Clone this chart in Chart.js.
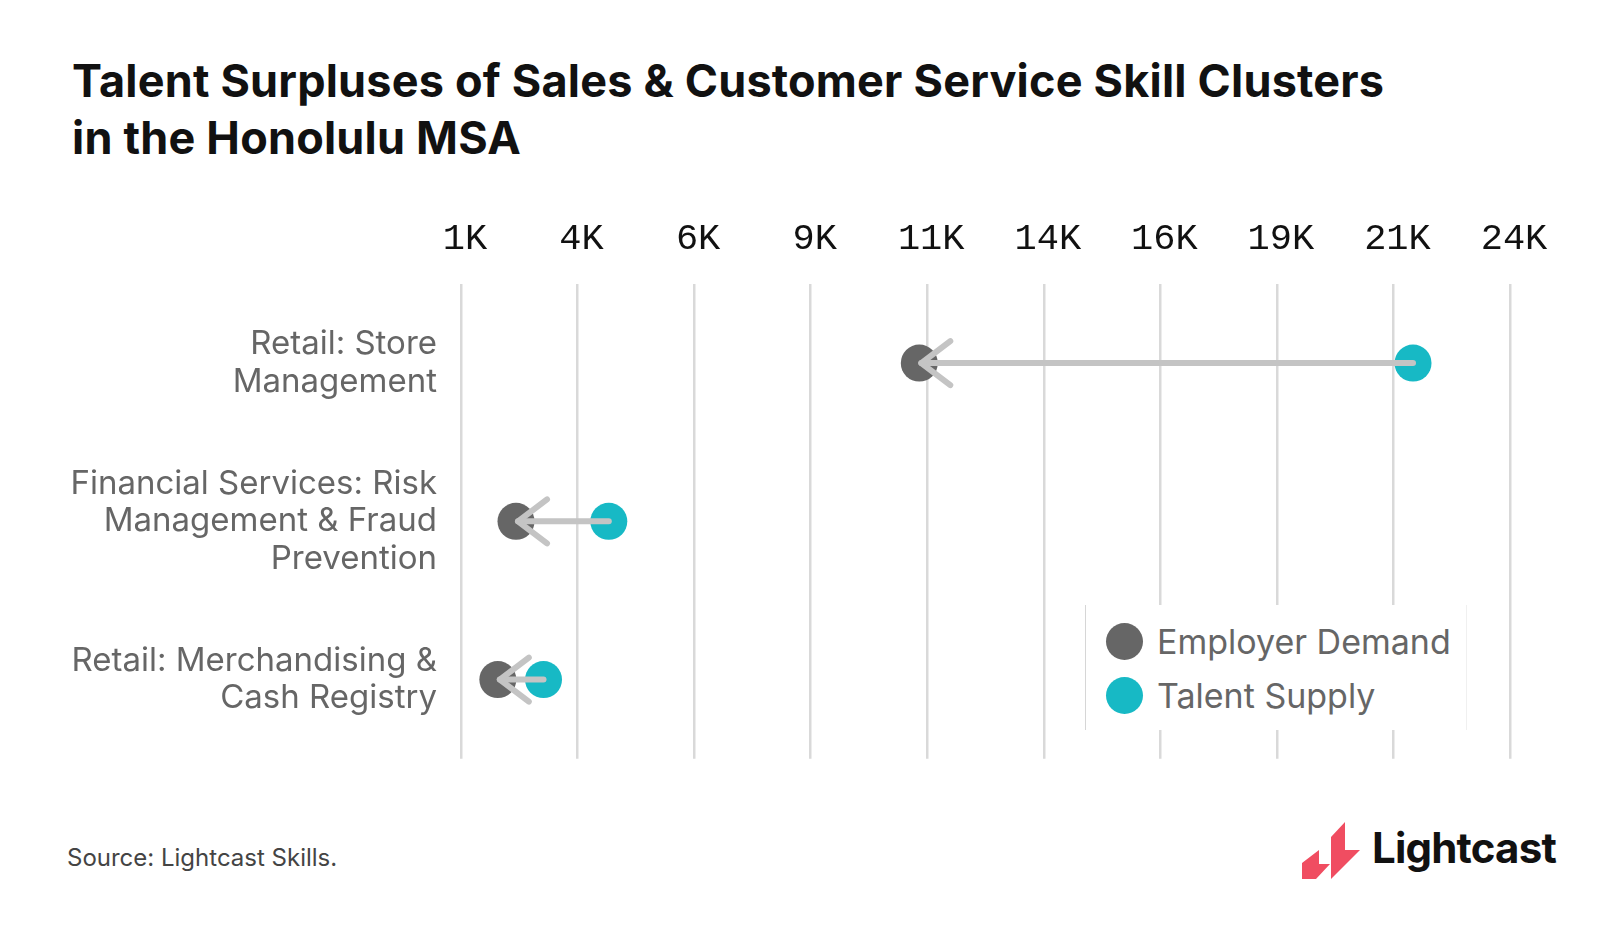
<!DOCTYPE html>
<html>
<head>
<meta charset="utf-8">
<script src="https://cdn.jsdelivr.net/npm/chart.js@4.4.0/dist/chart.umd.min.js"></script>
<style>
  html, body { margin: 0; padding: 0; background: #fff; }
  body { width: 1600px; height: 926px; position: relative; overflow: hidden; font-family: Inter, 'Noto Sans', sans-serif; }
  #title { position: absolute; left: 72px; top: 52px; margin: 0; font-size: 45px; line-height: 57px; font-weight: 700; color: #111; letter-spacing: 0.2px; }
  #chartBox { position: absolute; left: 0; top: 180px; width: 1600px; height: 640px; }
  #legend { position: absolute; left: 1085px; top: 605px; width: 382px; height: 125px; background: #fff;
            border-left: 1px solid #d6d6d6; border-right: 1px solid #f0f0f0; box-sizing: border-box; }
  .item { position: absolute; left: 20px; display: flex; align-items: center; font-size: 34px; color: #666; }
  .dot { width: 37px; height: 37px; border-radius: 50%; margin-right: 14px; }
  #source { position: absolute; left: 67px; top: 843px; font-size: 24px; color: #444; }
  #logo { position: absolute; left: 1302px; top: 822px; }
  #logoText { position: absolute; left: 1372px; top: 822px; font-size: 42px; font-weight: 700; color: #111; letter-spacing: -0.8px; }
</style>
</head>
<body>
<h1 id="title">Talent Surpluses of Sales &amp; Customer Service Skill Clusters<br>in the Honolulu MSA</h1>
<div id="chartBox"><canvas id="chart"></canvas></div>
<div id="legend">
  <div class="item" style="top:16px"><span class="dot" style="background:#666666"></span>Employer Demand</div>
  <div class="item" style="top:70px"><span class="dot" style="background:#17b9c5"></span>Talent Supply</div>
</div>
<div id="source">Source: Lightcast Skills.</div>
<svg id="logo" width="58" height="57" viewBox="0 0 58 57">
  <polygon points="0,57 0,41 17,28 17,42 28,42 14,57" fill="#f04d61"/>
  <polygon points="29,15 43,0 43,28 58,28 29,57 29,42" fill="#f04d61"/>
</svg>
<div id="logoText">Lightcast</div>

<script>
// ─── 데이터 ──────────────────────────────────────────────────────────────────
const categories = [
  ['Retail: Store', 'Management'],
  ['Financial Services: Risk', 'Management & Fraud', 'Prevention'],
  ['Retail: Merchandising &', 'Cash Registry'],
];
const employerDemand = [10830, 2180, 1790];
const talentSupply = [21420, 4170, 2770];
const tickValues = [1000, 3500, 6000, 8500, 11000, 13500, 16000, 18500, 21000, 23500];

const DEMAND_COLOR = '#666666';
const SUPPLY_COLOR = '#17b9c5';
const ARROW_COLOR = '#c4c4c4';

// ─── 화살표 플러그인 ─────────────────────────────────────────────────────────
const arrowPlugin = {
  id: 'arrows',
  afterDatasetsDraw(c) {
    const ctx = c.ctx;
    const xs = c.scales.x;
    const ys = c.scales.y;
    ctx.save();
    ctx.strokeStyle = ARROW_COLOR;
    ctx.lineWidth = 6;
    ctx.lineCap = 'round';
    ctx.lineJoin = 'round';
    categories.forEach((_, i) => {
      const y = ys.getPixelForValue(i);
      const from = xs.getPixelForValue(talentSupply[i]);
      const tip = xs.getPixelForValue(employerDemand[i]) + 2;
      ctx.beginPath();
      ctx.moveTo(from, y);
      ctx.lineTo(tip, y);
      ctx.stroke();
      ctx.beginPath();
      ctx.moveTo(tip + 29, y - 22);
      ctx.lineTo(tip, y);
      ctx.lineTo(tip + 29, y + 22);
      ctx.stroke();
    });
    ctx.restore();
  },
};

// ─── 차트 ────────────────────────────────────────────────────────────────────
new Chart(document.getElementById('chart'), {
  type: 'scatter',
  data: {
    labels: categories,
    datasets: [
      {
        label: 'Employer Demand',
        data: employerDemand.map((v, i) => ({ x: v, y: i })),
        backgroundColor: DEMAND_COLOR,
        borderWidth: 0,
        pointRadius: 18.5,
      },
      {
        label: 'Talent Supply',
        data: talentSupply.map((v, i) => ({ x: v, y: i })),
        backgroundColor: SUPPLY_COLOR,
        borderWidth: 0,
        pointRadius: 18.5,
      },
    ],
  },
  options: {
    responsive: true,
    maintainAspectRatio: false,
    animation: false,
    layout: { padding: { left: 0, right: 90, top: 0, bottom: 38 } },
    plugins: { legend: { display: false }, tooltip: { enabled: false } },
    scales: {
      x: {
        type: 'linear',
        position: 'top',
        min: 1000,
        max: 23500,
        afterBuildTicks: (s) => { s.ticks = tickValues.map((v) => ({ value: v })); },
        afterFit: (s) => { s.height = 104; },
        ticks: {
          callback: (v) => Math.round(v / 1000) + 'K',
          color: '#111',
          padding: 23,
          labelOffset: 4,
          maxRotation: 0,
          autoSkip: false,
          font: { family: "'Liberation Mono', 'DejaVu Sans Mono', monospace", size: 37 },
        },
        grid: { color: '#d9d9d9', lineWidth: 2.5, drawTicks: false },
        border: { display: false },
      },
      y: {
        type: 'category',
        offset: true,
        afterFit: (s) => { s.width = 461; },
        ticks: {
          color: '#666',
          padding: 24,
          font: { family: "Inter, 'Noto Sans', sans-serif", size: 33, lineHeight: 1.13 },
        },
        grid: { display: false, drawTicks: false },
        border: { display: false },
      },
    },
  },
  plugins: [arrowPlugin],
});
</script>
</body>
</html>
